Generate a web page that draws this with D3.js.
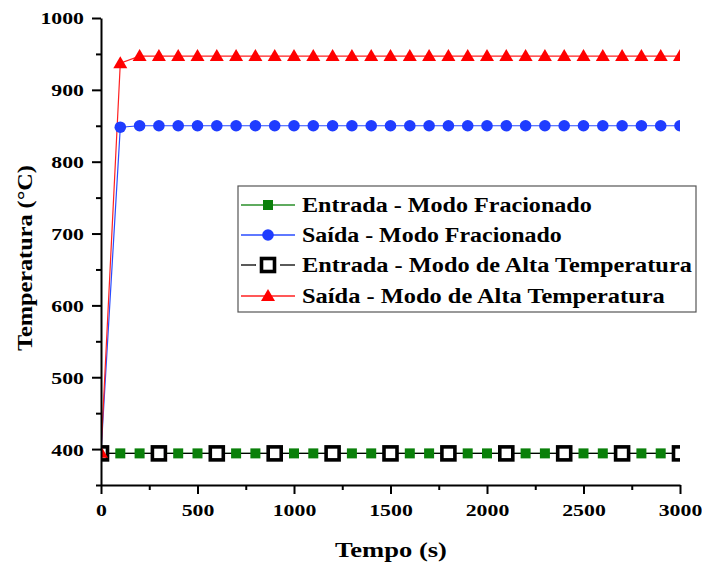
<!DOCTYPE html>
<html>
<head>
<meta charset="utf-8">
<script src="https://cdn.jsdelivr.net/npm/d3@7"></script>
<style>
  html, body { margin: 0; padding: 0; background: #fff; }
  svg text { font-family: "Liberation Serif", "Times New Roman", serif; font-weight: bold; fill: #000; }
</style>
</head>
<body>
<svg id="chart" width="702" height="568"></svg>
<script>
// Sampling instants (s)
const tempo = [0, 100, 200, 300, 400, 500, 600, 700, 800, 900, 1000,
  1100, 1200, 1300, 1400, 1500, 1600, 1700, 1800, 1900, 2000,
  2100, 2200, 2300, 2400, 2500, 2600, 2700, 2800, 2900, 3000];
// Instants logged in high-temperature mode inlet (s)
const tempoAlta = [0, 300, 600, 900, 1200, 1500, 1800, 2100, 2400, 2700, 3000];

// Temperatures (°C)
const entradaFracionado = [394, 394, 394, 394, 394, 394, 394, 394, 394, 394, 394,
  394, 394, 394, 394, 394, 394, 394, 394, 394, 394,
  394, 394, 394, 394, 394, 394, 394, 394, 394, 394];
const saidaFracionado = [395, 848, 850, 850, 850, 850, 850, 850, 850, 850, 850,
  850, 850, 850, 850, 850, 850, 850, 850, 850, 850,
  850, 850, 850, 850, 850, 850, 850, 850, 850, 850];
const entradaAlta = [394, 394, 394, 394, 394, 394, 394, 394, 394, 394, 394];
const saidaAlta = [395, 937, 947, 947, 947, 947, 947, 947, 947, 947, 947,
  947, 947, 947, 947, 947, 947, 947, 947, 947, 947,
  947, 947, 947, 947, 947, 947, 947, 947, 947, 947];

const xTicks = [0, 500, 1000, 1500, 2000, 2500, 3000];
const yTicks = [400, 500, 600, 700, 800, 900, 1000];
const legendLabels = [
  "Entrada - Modo Fracionado",
  "Saída - Modo Fracionado",
  "Entrada - Modo de Alta Temperatura",
  "Saída - Modo de Alta Temperatura"
];

const svg = d3.select("#chart");
const plotLeft = 101, plotRight = 680, plotTop = 18, plotBottom = 485;

const x = d3.scaleLinear().domain([0, 3000]).range([plotLeft, plotRight]);
const y = d3.scaleLinear().domain([350, 1000]).range([plotBottom, plotTop]);

svg.append("defs").append("clipPath").attr("id", "plotClip")
  .append("rect").attr("x", plotLeft).attr("y", plotTop - 10)
  .attr("width", plotRight - plotLeft).attr("height", plotBottom - plotTop + 10);

const plot = svg.append("g").attr("clip-path", "url(#plotClip)");

const line = d3.line().x(d => x(d[0])).y(d => y(d[1]));
const zip = (xs, ys) => xs.map((t, i) => [t, ys[i]]);

const series = [
  { data: zip(tempo, entradaFracionado), color: "#2a8f2a", mark: "sq", fill: "#0a800a" },
  { data: zip(tempo, saidaFracionado), color: "#2a4cff", mark: "circle", fill: "#1f3cff" },
  { data: zip(tempoAlta, entradaAlta), color: "#000", mark: "open", fill: "#000" },
  { data: zip(tempo, saidaAlta), color: "#ff2020", mark: "tri", fill: "#ff0000" }
];

function drawMarker(g, kind, fill, cx, cy) {
  if (kind === "sq") {
    g.append("rect").attr("x", cx - 5).attr("y", cy - 5).attr("width", 10).attr("height", 10).attr("fill", fill);
  } else if (kind === "circle") {
    g.append("circle").attr("cx", cx).attr("cy", cy).attr("r", 5.8).attr("fill", fill);
  } else if (kind === "open") {
    g.append("rect").attr("x", cx - 6.5).attr("y", cy - 6.5).attr("width", 13).attr("height", 13)
      .attr("fill", "#fff").attr("stroke", fill).attr("stroke-width", 3.6);
  } else if (kind === "tri") {
    g.append("path").attr("d", `M${cx},${cy - 7} L${cx + 7},${cy + 5} L${cx - 7},${cy + 5} Z`).attr("fill", fill);
  }
}

// Lines first, then markers, in series order
series.forEach(s => {
  plot.append("path").datum(s.data).attr("d", line)
    .attr("fill", "none").attr("stroke", s.color).attr("stroke-width", 1.2);
});
series.forEach(s => {
  const g = plot.append("g");
  s.data.forEach(d => drawMarker(g, s.mark, s.fill, x(d[0]), y(d[1])));
});

// The lettering is set wide: stretch glyphs horizontally about the text anchor
function stretch(node, target) {
  const t = d3.select(node);
  const w = node.getComputedTextLength();
  const sx = target / w;
  const x0 = +t.attr("x") || 0, y0 = +t.attr("y") || 0;
  t.attr("x", 0).attr("y", 0).attr("transform", `translate(${x0},${y0}) scale(${sx},1)`);
}

// Axes
const xAxis = svg.append("g").attr("transform", `translate(0,${plotBottom})`)
  .call(d3.axisBottom(x).tickValues(xTicks).tickFormat(d3.format("d")).tickSize(9).tickSizeOuter(0));
svg.append("g").attr("transform", `translate(0,${plotBottom})`)
  .call(d3.axisBottom(x).tickValues([250, 750, 1250, 1750, 2250, 2750]).tickFormat("").tickSize(5).tickSizeOuter(0))
  .select(".domain").remove();
const yAxis = svg.append("g").attr("transform", `translate(${plotLeft},0)`)
  .call(d3.axisLeft(y).tickValues(yTicks).tickFormat(d3.format("d")).tickSize(9).tickSizeOuter(0));
svg.append("g").attr("transform", `translate(${plotLeft},0)`)
  .call(d3.axisLeft(y).tickValues([350, 450, 550, 650, 750, 850, 950]).tickFormat("").tickSize(5).tickSizeOuter(0))
  .select(".domain").remove();

svg.selectAll(".domain").attr("stroke", "#000").attr("stroke-width", 2);
svg.selectAll(".tick line").attr("stroke", "#000").attr("stroke-width", 2);
xAxis.selectAll("text").attr("font-size", 16.5).attr("y", 19).attr("dy", "0.71em")
  .style("font-family", "Liberation Serif").style("font-weight", "bold")
  .each(function () { stretch(this, this.textContent.length * 10.9); });
yAxis.selectAll("text").attr("font-size", 16.5).attr("x", -17).attr("dy", "0.36em")
  .style("font-family", "Liberation Serif").style("font-weight", "bold")
  .each(function () { stretch(this, this.textContent.length * 10.9); });

// Axis titles
svg.append("text").attr("x", 391).attr("y", 557).attr("text-anchor", "middle")
  .attr("font-size", 22).text("Tempo (s)")
  .each(function () { stretch(this, 112); });
svg.append("g").attr("transform", "translate(32,258) rotate(-90)")
  .append("text").attr("text-anchor", "middle").attr("font-size", 22).text("Temperatura (°C)")
  .each(function () { stretch(this, 186); });

// Legend
const lg = svg.append("g");
lg.append("rect").attr("x", 238).attr("y", 186).attr("width", 458).attr("height", 126)
  .attr("fill", "#fff").attr("stroke", "#555").attr("stroke-width", 1.2);
const rowY = [205, 235, 265, 296];
const rowLen = [290, 260, 390, 363];
series.forEach((s, i) => {
  const yy = rowY[i];
  if (s.mark === "open") {
    lg.append("line").attr("x1", 241).attr("x2", 256).attr("y1", yy).attr("y2", yy).attr("stroke", s.color).attr("stroke-width", 1.3);
    lg.append("line").attr("x1", 280).attr("x2", 295).attr("y1", yy).attr("y2", yy).attr("stroke", s.color).attr("stroke-width", 1.3);
  } else {
    lg.append("line").attr("x1", 241).attr("x2", 295).attr("y1", yy).attr("y2", yy).attr("stroke", s.color).attr("stroke-width", 1.3);
  }
  drawMarker(lg, s.mark, s.fill, 268, yy);
  lg.append("text").attr("x", 302).attr("y", yy + 7).attr("font-size", 21).text(legendLabels[i])
    .each(function () { stretch(this, rowLen[i]); });
});
</script>
</body>
</html>
